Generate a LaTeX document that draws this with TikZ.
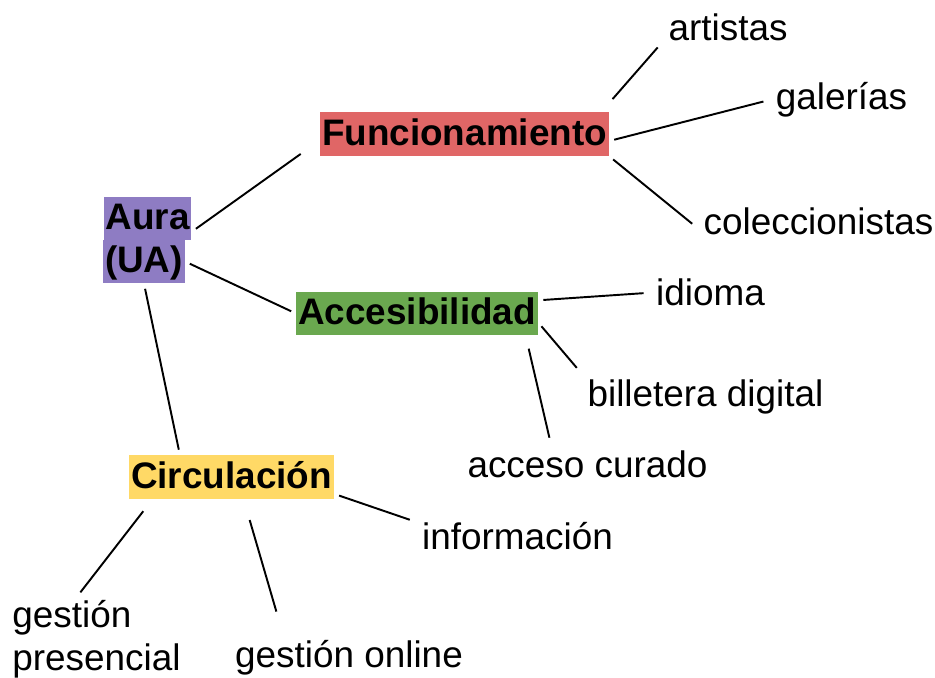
\documentclass[tikz,border=0pt]{standalone}
\usepackage{fontspec}
\setmainfont{Liberation Sans}
\usepackage{tikz}
\usetikzlibrary{positioning}
\definecolor{rouge}{HTML}{E06666}
\definecolor{mauve}{HTML}{8E7CC3}
\definecolor{vert}{HTML}{6AA84F}
\definecolor{jaune}{HTML}{FFD966}
\def\taille{\fontsize{21}{24.5}\selectfont}

\begin{document}
\begin{tikzpicture}[x=0.02cm,y=-0.02cm,
  boite/.style={inner xsep=1pt,inner ysep=1.5pt,text height=17.2pt,text depth=4.6pt,font=\taille\bfseries},
  etiquette/.style={inner sep=4pt,font=\taille},
  lien/.style={line width=1.1pt,shorten <=3pt,shorten >=3pt}]
\useasboundingbox (0,0) rectangle (935,678);
% les boites
\node[boite,fill=rouge] (fonc) at (464.5,134) {Funcionamiento};
\node[boite,fill=mauve] (aura) at (147.5,218.5) {Aura};
\node[boite,fill=mauve] (ua) at (144,261.5) {(UA)};
\node[boite,fill=vert] (acces) at (417,313.5) {Accesibilidad};
\node[boite,fill=jaune] (circ) at (231.5,477) {Circulación};
% les etiquettes
\node[etiquette,anchor=base] (art) at (728,41) {artistas};
\node[etiquette,anchor=base] (gal) at (841.5,110) {galerías};
\node[etiquette,anchor=base] (col) at (818.5,235) {coleccionistas};
\node[etiquette,anchor=base] (idi) at (710.5,306) {idioma};
\node[etiquette,anchor=base] (bil) at (705.5,406) {billetera digital};
\node[etiquette,anchor=base] (cur) at (587.5,477) {acceso curado};
\node[etiquette,anchor=base] (inf) at (517.5,549) {información};
\node[etiquette,anchor=north west,align=left] (gp) at (5,593) {gestión\\presencial};
\node[etiquette,anchor=base] (go) at (349,667) {gestión online};
% les liens
\draw[lien] ([yshift=5pt]aura.south east) -- ([xshift=-8.5pt,yshift=3pt]fonc.south west);
\draw[lien] (ua.east) -- (acces.west);
\draw[lien] (ua.south) -- ([xshift=29pt]circ.north west);
\draw[lien] ([yshift=5pt]fonc.north east) -- ([yshift=3pt]art.south west);
\draw[lien] ([yshift=-4pt]fonc.east) -- (gal.west);
\draw[lien] (fonc.south east) -- ([yshift=-3pt]col.west);
\draw[lien] ([yshift=7.5pt]acces.east) -- (idi.west);
\draw[lien] ([yshift=-5pt]acces.east) -- (bil.north west);
\draw[lien] ([xshift=-6pt,yshift=-4.5pt]acces.south east) -- ([xshift=-21pt]cur.north);
\draw[lien] ([yshift=3pt]circ.south east) -- ([yshift=-4pt]inf.north west);
\draw[lien] ([xshift=10pt,yshift=-4.5pt]circ.south west) -- ([xshift=-11pt,yshift=-2pt]gp.north);
\draw[lien] ([xshift=9.5pt,yshift=-9pt]circ.south) -- ([xshift=28.5pt,yshift=9pt]go.north west);
\end{tikzpicture}
\end{document}
